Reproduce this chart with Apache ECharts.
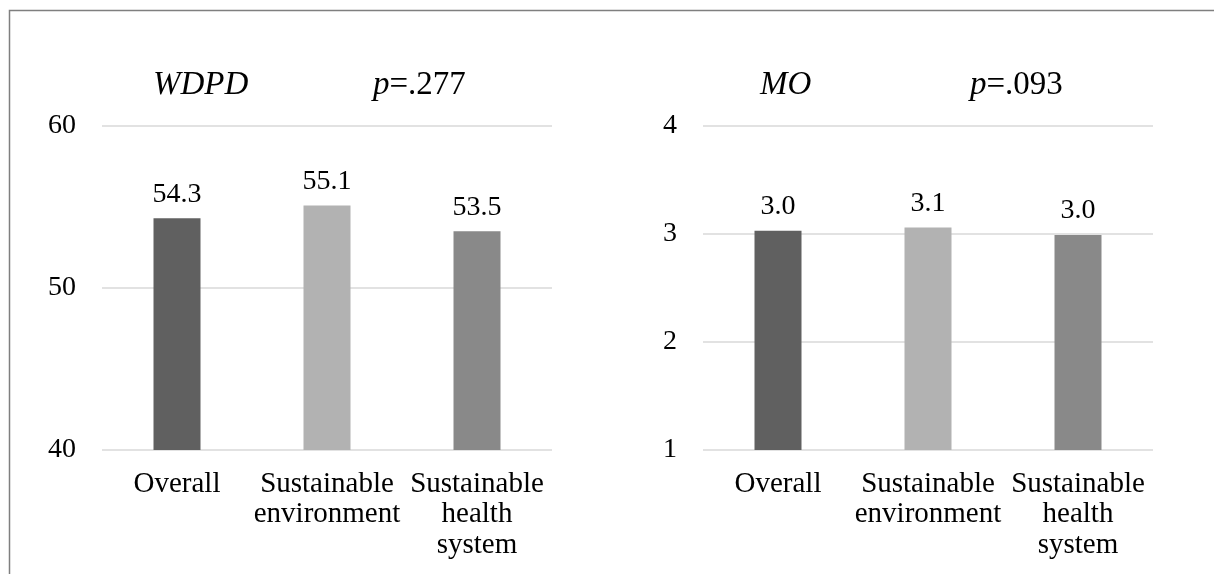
<!DOCTYPE html>
<html>
<head>
<meta charset="utf-8">
<script src="https://cdn.jsdelivr.net/npm/echarts@6/dist/echarts.min.js"></script>
<style>
  html, body { margin: 0; padding: 0; background: #fff; }
  #chart { width: 1214px; height: 574px; }
</style>
</head>
<body>
<div id="chart"></div>
<script>
var categories = ['Overall', 'Sustainable\nenvironment', 'Sustainable\nhealth\nsystem'];
var wdpdValues = [54.3, 55.1, 53.5];
var moValues = [3.03, 3.06, 2.99];
var wdpdTicks = [40, 50, 60];
var moTicks = [1, 2, 3, 4];
var panelTitles = ['WDPD', 'MO'];
var pValues = ['.277', '.093'];

window.onload = function() {
    var chart = echarts.init(document.getElementById('chart'));
    var font = 'Liberation Serif';
    var barColors = ['#606060', '#b2b2b2', '#898989'];

    function yAxis(idx, ticks) {
        return {
            type: 'value',
            gridIndex: idx,
            min: ticks[0],
            max: ticks[ticks.length - 1],
            interval: ticks[1] - ticks[0],
            axisLine: { show: false },
            axisTick: { show: false },
            axisLabel: { color: '#000', fontFamily: font, fontSize: 28, margin: 26 },
            splitLine: { lineStyle: { color: '#d9d9d9', width: 1.5 } }
        };
    }
    function xAxis(idx) {
        return {
            type: 'category',
            gridIndex: idx,
            data: categories,
            axisLine: { show: false },
            axisTick: { show: false },
            axisLabel: { color: '#000', fontFamily: font, fontSize: 29, lineHeight: 30.5, margin: 19, interval: 0 }
        };
    }
    function bars(idx, values) {
        return {
            type: 'bar',
            xAxisIndex: idx,
            yAxisIndex: idx,
            data: values,
            barWidth: 47,
            silent: true,
            itemStyle: {
                color: function(p) { return barColors[p.dataIndex]; }
            },
            label: {
                show: true,
                position: 'top',
                distance: 10,
                color: '#000',
                fontFamily: font,
                fontSize: 28,
                formatter: function(p) { return p.value.toFixed(1); }
            }
        };
    }
    function title(text, left, italicAll) {
        return {
            text: text,
            left: left,
            top: 68,
            padding: 0,
            textStyle: {
                fontFamily: font,
                fontSize: 33,
                fontWeight: 'normal',
                fontStyle: italicAll ? 'italic' : 'normal',
                color: '#000',
                lineHeight: 34,
                rich: {
                    i: { fontFamily: font, fontSize: 33, fontStyle: 'italic', color: '#000', lineHeight: 34 },
                    n: { fontFamily: font, fontSize: 33, fontStyle: 'normal', color: '#000', lineHeight: 34 }
                }
            }
        };
    }

    chart.setOption({
        animation: false,
        title: [
            title(panelTitles[0], 153, true),
            title('{i|p}{n|=' + pValues[0] + '}', 373, false),
            title(panelTitles[1], 760, true),
            title('{i|p}{n|=' + pValues[1] + '}', 970, false)
        ],
        graphic: [{
            type: 'rect',
            shape: { x: 9.5, y: 10.5, width: 1230, height: 620 },
            style: { fill: null, stroke: '#7f7f7f', lineWidth: 1.5 },
            silent: true
        }],
        grid: [
            { left: 102, top: 126, width: 450, height: 324 },
            { left: 703, top: 126, width: 450, height: 324 }
        ],
        xAxis: [xAxis(0), xAxis(1)],
        yAxis: [yAxis(0, wdpdTicks), yAxis(1, moTicks)],
        series: [bars(0, wdpdValues), bars(1, moValues)]
    });
};
</script>
</body>
</html>
